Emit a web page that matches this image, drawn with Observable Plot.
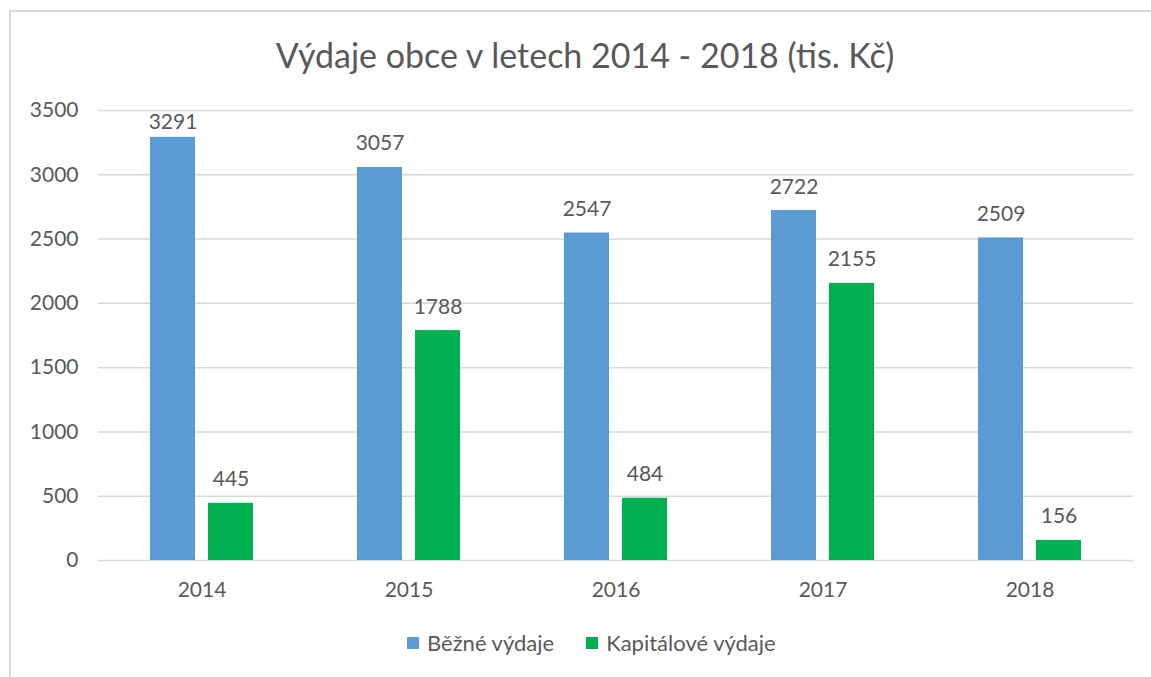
<!DOCTYPE html>
<html>
<head>
<meta charset="utf-8">
<script src="https://cdn.jsdelivr.net/npm/d3@7"></script>
<script src="https://cdn.jsdelivr.net/npm/@observablehq/plot@0.6"></script>
<style>
  html, body { margin: 0; padding: 0; background: #fff; }
  #wrap { position: relative; width: 1151px; height: 677px; overflow: hidden; font-family: Lato, "Open Sans", sans-serif; color: #595959; }
  #frame { position: absolute; left: 9px; top: 10px; width: 1200px; height: 800px; border-left: 2px solid #D9D9D9; border-top: 2px solid #D9D9D9; box-sizing: border-box; }
  #title { position: absolute; left: 0; width: 1170px; top: 35px; text-align: center; font-size: 34px; line-height: 40px; white-space: nowrap; }
  #chart { position: absolute; left: 0; top: 90px; }
  #legend { position: absolute; left: 407px; top: 631px; display: flex; align-items: center; font-size: 22px; line-height: 24px; white-space: nowrap; }
  .item { display: flex; align-items: center; margin-right: 32px; }
  .sw { width: 12px; height: 12px; margin-right: 8px; }
</style>
</head>
<body>
<div id="wrap">
  <div id="frame"></div>
  <div id="title"></div>
  <div id="chart"></div>
  <div id="legend"></div>
</div>
<script>
const titleText = "Výdaje obce v letech 2014 - 2018 (tis. Kč)";
const years = ["2014", "2015", "2016", "2017", "2018"];
const seriesNames = ["Běžné výdaje", "Kapitálové výdaje"];
const bezneVydaje = [3291, 3057, 2547, 2722, 2509];
const kapitaloveVydaje = [445, 1788, 484, 2155, 156];
const seriesColors = ["#5B9BD5", "#00B050"];
const yTicks = [0, 500, 1000, 1500, 2000, 2500, 3000, 3500];
const yMax = 3500;

const data = [];
years.forEach((yr, i) => {
  data.push({year: yr, series: seriesNames[0], value: bezneVydaje[i]});
  data.push({year: yr, series: seriesNames[1], value: kapitaloveVydaje[i]});
});

document.getElementById("title").textContent = titleText;

// labels near the top of the plot area are pushed closer to their bar (as the original does)
const nearTop = d => d.value > yMax * 0.9;

const chart = Plot.plot({
  width: 1151,
  height: 530,
  marginLeft: 97,
  marginRight: 18,
  marginTop: 20,
  marginBottom: 60,
  style: {fontFamily: "Lato, 'Open Sans', sans-serif", fontSize: "21px", color: "#595959", background: "transparent"},
  fx: {domain: years, padding: 0, label: null, axis: "bottom", tickSize: 0, tickPadding: 22},
  x: {domain: seriesNames, paddingInner: 0.22, paddingOuter: 0.866, axis: null},
  y: {domain: [0, yMax], ticks: yTicks, tickFormat: d => String(d), label: null, tickSize: 0, tickPadding: 20},
  color: {domain: seriesNames, range: seriesColors},
  marks: [
    Plot.ruleY(yTicks, {stroke: "#D9D9D9", strokeWidth: 1.5}),
    Plot.barY(data, {fx: "year", x: "series", y: "value", fill: "series"}),
    Plot.text(data.filter(d => !nearTop(d)), {fx: "year", x: "series", y: "value", text: d => String(d.value), lineAnchor: "bottom", dy: -17, fill: "#595959", fontSize: 21}),
    Plot.text(data.filter(nearTop), {fx: "year", x: "series", y: "value", text: d => String(d.value), lineAnchor: "bottom", dy: -8, fill: "#595959", fontSize: 21})
  ]
});
document.getElementById("chart").appendChild(chart);

const legend = document.getElementById("legend");
seriesNames.forEach((name, i) => {
  const item = document.createElement("div");
  item.className = "item";
  const sw = document.createElement("div");
  sw.className = "sw";
  sw.style.background = seriesColors[i];
  const label = document.createElement("span");
  label.textContent = name;
  item.appendChild(sw);
  item.appendChild(label);
  legend.appendChild(item);
});
</script>
</body>
</html>
